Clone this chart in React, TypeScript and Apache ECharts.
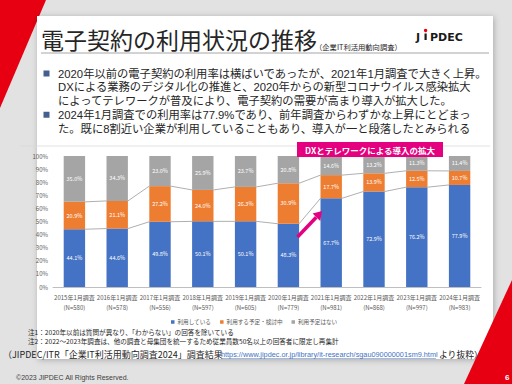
import React, { useEffect, useRef } from "react";
import * as echarts from "echarts";

const categories = [
  "2015年1月調査", "2016年1月調査", "2017年1月調査", "2018年1月調査", "2019年1月調査",
  "2020年1月調査", "2021年1月調査", "2022年1月調査", "2023年1月調査", "2024年1月調査",
];
const sampleSizes = ["N=580", "N=578", "N=556", "N=597", "N=605", "N=779", "N=981", "N=868", "N=997", "N=983"];
const seriesNames = ["利用している", "利用する予定・検討中", "利用予定はない"];
const using = [44.1, 44.6, 49.8, 50.1, 50.1, 48.3, 67.7, 72.9, 76.2, 77.9];
const planning = [20.9, 21.1, 27.2, 24.0, 26.3, 30.9, 17.7, 13.9, 12.5, 10.7];
const noPlan = [35.0, 34.3, 23.0, 25.9, 23.7, 20.8, 14.6, 13.2, 11.3, 11.4];
const yTicks = { min: 0, max: 100, interval: 10 };

const bulletLines = [
  "2020年以前の電子契約の利用率は横ばいであったが、2021年1月調査で大きく上昇。",
  "DXによる業務のデジタル化の推進と、2020年からの新型コロナウイルス感染拡大",
  "によってテレワークが普及により、電子契約の需要が高まり導入が拡大した。",
  "2024年1月調査での利用率は77.9%であり、前年調査からわずかな上昇にとどまっ",
  "た。既に8割近い企業が利用していることもあり、導入が一と段落したとみられる",
];
const notes = [
  "注1：2020年以前は質問が異なり、「わからない」の回答を除いている",
  "注2：2022～2023年調査は、他の調査と母集団を統一するため従業員数50名以上の回答者に限定し再集計",
];

const CJK = '"Noto Sans CJK JP", "Noto Sans", sans-serif';
const BODY = '"Liberation Sans", "Noto Sans CJK JP", sans-serif';

export default function App() {
  const ref = useRef<HTMLDivElement>(null);
  useEffect(() => {
    if (!ref.current) return;
    const chart = echarts.init(ref.current, null, { renderer: "svg" });

    const connectors = [];
    for (let i = 0; i < using.length - 1; i++) {
      connectors.push([i, using[i], using[i + 1], using[i] + planning[i], using[i + 1] + planning[i + 1]]);
    }

    const labelCfg = {
      show: true,
      position: "inside",
      color: "#ffffff",
      fontSize: 5.5,
      fontFamily: CJK,
      formatter: (p: any) => Number(p.value).toFixed(1) + "%",
    };

    const lh = 13.75;
    const firstY = 73.5;
    const graphics: any[] = [
      { type: "polygon", z: 0, shape: { points: [[0, 0], [46, 0], [0, 108]] }, style: { fill: "#e60012" } },
      {
        type: "rect", z: 1, shape: { x: 37, y: 16, width: 456, height: 343 },
        style: { fill: "#ffffff", shadowBlur: 6, shadowColor: "rgba(0,0,0,0.25)", shadowOffsetX: 1, shadowOffsetY: 1 },
      },
      { type: "polygon", z: 5, shape: { points: [[512, 280], [512, 384], [464, 384]] }, style: { fill: "#e60012" } },
      { type: "text", z: 5, x: 41, y: 39, style: { text: "電子契約の利用状況の推移", fontSize: 23, fontFamily: CJK, fill: "#262626", textVerticalAlign: "middle" } },
      { type: "text", z: 5, x: 315, y: 46.5, style: { text: "（企業IT利活用動向調査）", fontSize: 7.3, fontFamily: CJK, fill: "#262626", textVerticalAlign: "middle" } },
      { type: "line", z: 5, shape: { x1: 41, y1: 53, x2: 489, y2: 53 }, style: { stroke: "#a6a6a6", lineWidth: 1 } },
      { type: "text", z: 5, x: 416, y: 37, style: { text: "J", fontSize: 11, fontWeight: "bold", fontFamily: "DejaVu Sans", fill: "#1a1a1a", textVerticalAlign: "middle" } },
      { type: "rect", z: 5, shape: { x: 424.5, y: 33.5, width: 2.2, height: 6.5 }, style: { fill: "#1a1a1a" } },
      { type: "circle", z: 5, shape: { cx: 425.6, cy: 30.5, r: 1.7 }, style: { fill: "#e60012" } },
      { type: "text", z: 5, x: 430, y: 37, style: { text: "PDEC", fontSize: 11, fontWeight: "bold", fontFamily: "DejaVu Sans", fill: "#1a1a1a", textVerticalAlign: "middle" } },
      { type: "line", z: 2, shape: { x1: 20, y1: 146, x2: 490, y2: 146 }, style: { stroke: "#d9d9d9", lineWidth: 0.8 } },
      { type: "rect", z: 6, shape: { x: 297, y: 142, width: 146, height: 15 }, style: { fill: "#e5007f" } },
      { type: "text", z: 7, x: 370, y: 149.5, style: { text: "DXとテレワークによる導入の拡大", fontSize: 8.5, fontWeight: "bold", fontFamily: CJK, fill: "#ffffff", textAlign: "center", textVerticalAlign: "middle" } },
      { type: "line", z: 12, shape: { x1: 297.5, y1: 237, x2: 316.3, y2: 217.2 }, style: { stroke: "#e5007f", lineWidth: 3.5 } },
      { type: "polygon", z: 12, shape: { points: [[322, 211], [320.2, 221], [312.6, 213.6]] }, style: { fill: "#e5007f" } },
      { type: "text", z: 5, x: 3, y: 354, style: { text: "（JIPDEC/ITR「企業IT利活用動向調査2024」調査結果", fontSize: 9, fontFamily: CJK, fill: "#262626", textVerticalAlign: "middle" } },
      { type: "text", z: 5, x: 221, y: 354.5, style: { text: "https://www.jipdec.or.jp/library/it-research/sgau090000001sm9.html", fontSize: 7.3, fontFamily: "Liberation Sans", fill: "#4472c4", textVerticalAlign: "middle" } },
      { type: "line", z: 5, shape: { x1: 221, y1: 358.5, x2: 436, y2: 358.5 }, style: { stroke: "#4472c4", lineWidth: 0.5 } },
      { type: "text", z: 5, x: 439, y: 354, style: { text: "より抜粋）", fontSize: 8.8, fontFamily: CJK, fill: "#262626", textVerticalAlign: "middle" } },
      { type: "text", z: 5, x: 16, y: 377, style: { text: "©2023 JIPDEC All Rights Reserved.", fontSize: 7, fontFamily: "Liberation Sans", fill: "#404040", textVerticalAlign: "middle" } },
      { type: "text", z: 6, x: 505, y: 377, style: { text: "6", fontSize: 8, fontWeight: "bold", fontFamily: "Liberation Sans", fill: "#ffffff", textVerticalAlign: "middle" } },
      {
        type: "text", z: 5, x: 58, y: firstY - lh / 2,
        style: { text: bulletLines.join("\n"), fontSize: 11.3, lineHeight: lh, fontFamily: BODY, fill: "#262626", textVerticalAlign: "top" },
      },
    ];
    [0, 3].forEach((i) => {
      graphics.push({ type: "rect", z: 5, shape: { x: 43.5, y: firstY + i * lh - 3, width: 6, height: 6 }, style: { fill: "#44608f" } });
    });
    graphics.push({
      type: "text", z: 5, x: 28, y: 332 - 4.3,
      style: { text: notes.join("\n"), fontSize: 6.6, lineHeight: 8.6, fontFamily: CJK, fill: "#262626", textVerticalAlign: "top" },
    });

    chart.setOption({
      animation: false,
      backgroundColor: "#e2e2e2",
      graphic: graphics,
      legend: {
        data: seriesNames,
        left: 171,
        top: 319,
        icon: "rect",
        itemWidth: 3.5,
        itemHeight: 3.5,
        itemGap: 9,
        padding: 0,
        textStyle: { fontSize: 5.6, lineHeight: 6, color: "#595959", fontFamily: CJK, padding: [0, 0, 0, -2] },
        z: 10,
      },
      grid: { left: 53, right: 31, top: 156, bottom: 97, containLabel: false, z: 3 },
      xAxis: {
        type: "category",
        data: categories,
        z: 4,
        axisLine: { lineStyle: { color: "#bfbfbf" } },
        axisTick: { show: false },
        axisLabel: {
          interval: 0,
          fontSize: 6,
          color: "#595959",
          fontFamily: CJK,
          lineHeight: 10,
          margin: 5,
          formatter: (v: string, i: number) => v + "\n(" + sampleSizes[i] + ")",
        },
      },
      yAxis: {
        type: "value",
        min: yTicks.min,
        max: yTicks.max,
        interval: yTicks.interval,
        z: 4,
        axisLine: { show: false },
        axisTick: { show: false },
        splitLine: { show: false },
        axisLabel: { formatter: "{value}%", fontSize: 6, color: "#595959", margin: 5, fontFamily: CJK },
      },
      series: [
        { name: seriesNames[0], type: "bar", stack: "s", barWidth: "50%", z: 4, itemStyle: { color: "#4472c4" }, label: labelCfg, data: using },
        { name: seriesNames[1], type: "bar", stack: "s", barWidth: "50%", z: 4, itemStyle: { color: "#ed7d31" }, label: labelCfg, data: planning },
        { name: seriesNames[2], type: "bar", stack: "s", barWidth: "50%", z: 4, itemStyle: { color: "#a5a5a5" }, label: labelCfg, data: noPlan },
        {
          name: "connectors",
          type: "custom",
          z: 5,
          silent: true,
          encode: { x: 0, y: [1, 2, 3, 4] },
          data: connectors,
          renderItem: (params: any, api: any) => {
            const i = api.value(0);
            const half = (api.size([1, 0])[0] * 0.5) / 2;
            const a1 = api.coord([i, api.value(1)]);
            const a2 = api.coord([i + 1, api.value(2)]);
            const b1 = api.coord([i, api.value(3)]);
            const b2 = api.coord([i + 1, api.value(4)]);
            const st = { stroke: "#8c8c8c", lineWidth: 0.7 };
            return {
              type: "group",
              children: [
                { type: "line", shape: { x1: a1[0] + half, y1: a1[1], x2: a2[0] - half, y2: a2[1] }, style: st },
                { type: "line", shape: { x1: b1[0] + half, y1: b1[1], x2: b2[0] - half, y2: b2[1] }, style: st },
              ],
            };
          },
        },
      ],
    });
    return () => chart.dispose();
  }, []);
  return <div ref={ref} style={{ position: "fixed", left: 0, top: 0, width: 512, height: 384 }} />;
}
